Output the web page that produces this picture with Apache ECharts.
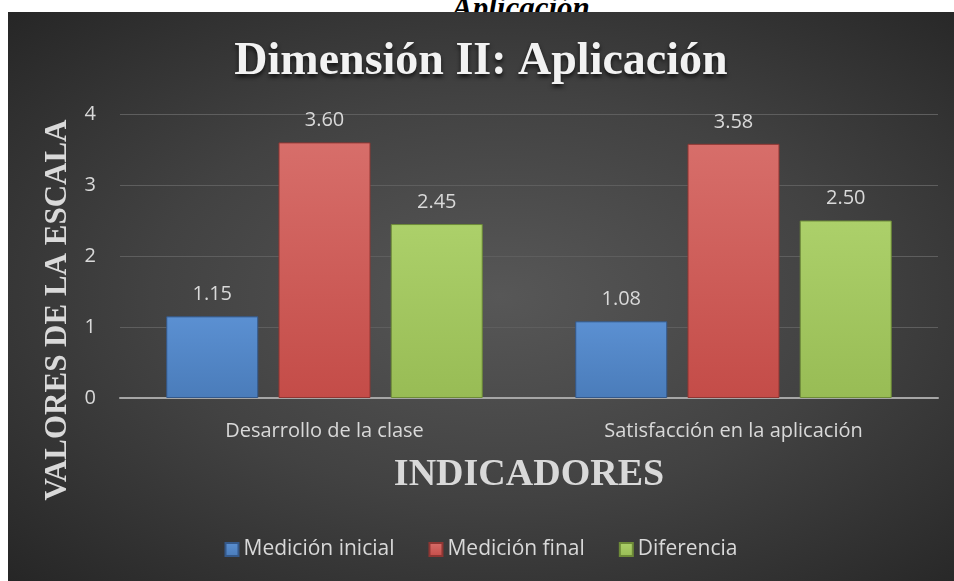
<!DOCTYPE html>
<html>
<head>
<meta charset="utf-8">
<script src="https://cdn.jsdelivr.net/npm/echarts@6/dist/echarts.min.js"></script>
<style>
  body { margin: 0; background: #fff; width: 954px; height: 581px; overflow: hidden; position: relative; }
  .cut {
    position: absolute; left: 452px; top: -10px;
    font: italic bold 31px "Liberation Serif", serif; color: #000;
  }
  #chart {
    position: absolute; left: 8px; top: 12px; width: 946px; height: 569px;
    background: radial-gradient(ellipse at 52% 50%, #575757 0%, #424242 50%, #262626 100%);
  }
</style>
</head>
<body>
<div class="cut">Aplicación</div>
<div id="chart"></div>
<script>
// datos del gráfico
const categorias = ['Desarrollo de la clase', 'Satisfacción en la aplicación']
const medicionInicial = [1.15, 1.08]
const medicionFinal = [3.60, 3.58]
const diferencia = [2.45, 2.50]
const nombres = ['Medición inicial', 'Medición final', 'Diferencia']

const mychart = echarts.init(document.getElementById('chart'))

function grad(top, bottom) {
  return new echarts.graphic.LinearGradient(0, 0, 0, 1, [
    { offset: 0, color: top },
    { offset: 1, color: bottom }
  ])
}

const colores = [
  grad('#5b90d2', '#4a7cba'),
  grad('#d76e6a', '#c44c48'),
  grad('#acd06a', '#98bc55')
]
const bordes = ['#35598a', '#8e3633', '#6d8a38']

const labelStyle = {
  show: true,
  position: 'top',
  distance: 12,
  color: '#d9d9d9',
  fontSize: 20,
  fontFamily: 'Open Sans',
  formatter: (p) => p.value.toFixed(2)
}

const series = [medicionInicial, medicionFinal, diferencia].map((d, i) => ({
  name: nombres[i],
  type: 'bar',
  data: d,
  barWidth: 92,
  barGap: '22%',
  itemStyle: {
    color: colores[i],
    borderColor: bordes[i],
    borderWidth: 1
  },
  label: labelStyle
}))

mychart.setOption({
  backgroundColor: 'transparent',
  title: {
    text: 'Dimensión II: Aplicación',
    left: 'center',
    top: 22,
    textStyle: {
      fontFamily: 'Liberation Serif',
      fontWeight: 'bold',
      fontSize: 46,
      color: '#f2f2f2',
      textShadowColor: 'rgba(0,0,0,0.7)',
      textShadowBlur: 4,
      textShadowOffsetY: 3
    }
  },
  legend: {
    data: nombres,
    bottom: 16,
    left: 'center',
    itemWidth: 13,
    itemHeight: 13,
    itemGap: 34,
    icon: 'rect',
    textStyle: { color: '#d9d9d9', fontSize: 21, fontFamily: 'Open Sans' }
  },
  grid: {
    left: 112,
    right: 16,
    top: 102,
    bottom: 183
  },
  xAxis: {
    type: 'category',
    data: categorias,
    name: 'INDICADORES',
    nameLocation: 'middle',
    nameGap: 58,
    nameTextStyle: {
      fontFamily: 'Liberation Serif',
      fontWeight: 'bold',
      fontSize: 38,
      color: '#d9d9d9'
    },
    axisLine: { lineStyle: { color: '#a6a6a6', width: 2 } },
    axisTick: { show: false },
    axisLabel: {
      color: '#d9d9d9',
      fontSize: 20,
      fontFamily: 'Open Sans',
      margin: 23
    }
  },
  yAxis: {
    type: 'value',
    min: 0,
    max: 4,
    interval: 1,
    name: 'VALORES DE LA ESCALA',
    nameLocation: 'middle',
    nameGap: 46,
    nameTextStyle: {
      fontFamily: 'Liberation Serif',
      fontWeight: 'bold',
      fontSize: 31,
      color: '#d9d9d9',
      padding: [0, 108, 0, 0]
    },
    axisLabel: {
      color: '#d9d9d9',
      fontSize: 20,
      fontFamily: 'Open Sans',
      margin: 24
    },
    splitLine: { lineStyle: { color: '#5e5e5e', width: 1 } }
  },
  series: series
})
</script>
</body>
</html>
